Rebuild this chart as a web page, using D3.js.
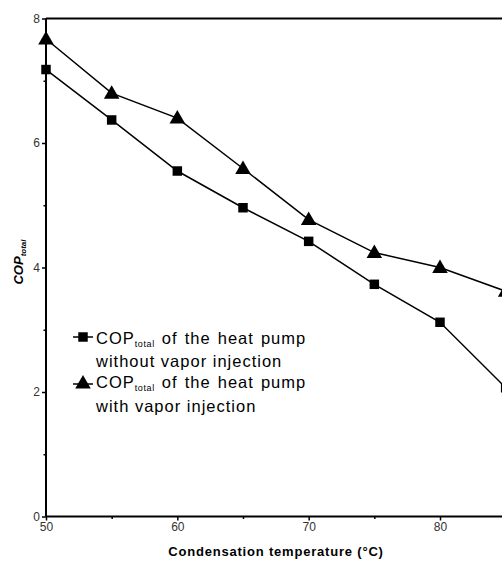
<!DOCTYPE html>
<html><head><meta charset="utf-8">
<script src="https://cdn.jsdelivr.net/npm/d3@7"></script>
<style>body{margin:0;background:#fff}svg{display:block}</style>
</head><body>
<svg id="c" width="502" height="561"></svg>
<script>
const temps = [50, 55, 60, 65, 70, 75, 80, 85];
const copWithout = [7.18, 6.37, 5.55, 4.96, 4.42, 3.73, 3.12, 2.07];
const copWith = [7.67, 6.80, 6.40, 5.59, 4.77, 4.24, 4.00, 3.62];
const xTicks = [50, 60, 70, 80];
const xMinor = [55, 65, 75];
const yTicks = [0, 2, 4, 6, 8];
const yMinor = [1, 3, 5, 7];

const svg = d3.select("#c");
const x = d3.scaleLinear().domain([50, 80]).range([46, 440]);
const y = d3.scaleLinear().domain([0, 8]).range([516.5, 18.5]);
const font = "Arial, 'Liberation Sans', sans-serif";

// frame top
svg.append("line").attr("x1", x(50)).attr("x2", 502).attr("y1", y(8)).attr("y2", y(8))
  .attr("stroke", "#000").attr("stroke-width", 2);

// x axis
const xa = svg.append("g").attr("transform", `translate(0,${y(0)})`)
  .call(d3.axisBottom(x).tickValues(xTicks).tickSize(4).tickSizeOuter(0).tickPadding(2));
xa.select(".domain").remove();
xa.selectAll("text").attr("font-family", font).attr("font-size", 12).attr("fill", "#333");
xa.selectAll("line").attr("stroke-width", 1.5);
svg.append("g").attr("transform", `translate(0,${y(0)})`)
  .call(d3.axisBottom(x).tickValues(xMinor).tickSize(2.5).tickFormat(""))
  .call(g => g.select(".domain").remove()).selectAll("line").attr("stroke-width", 1.5);
svg.append("line").attr("x1", x(50)).attr("x2", 502).attr("y1", y(0)).attr("y2", y(0))
  .attr("stroke", "#000").attr("stroke-width", 2);

// y axis
const ya = svg.append("g").attr("transform", `translate(${x(50)},0)`)
  .call(d3.axisLeft(y).tickValues(yTicks).tickSize(4).tickSizeOuter(0).tickPadding(2));
ya.select(".domain").remove();
ya.selectAll("text").attr("font-family", font).attr("font-size", 12).attr("fill", "#333");
ya.selectAll("line").attr("stroke-width", 1.5);
svg.append("g").attr("transform", `translate(${x(50)},0)`)
  .call(d3.axisLeft(y).tickValues(yMinor).tickSize(2.5).tickFormat(""))
  .call(g => g.select(".domain").remove()).selectAll("line").attr("stroke-width", 1.5);
svg.append("line").attr("x1", x(50)).attr("x2", x(50)).attr("y1", y(8)).attr("y2", y(0))
  .attr("stroke", "#000").attr("stroke-width", 2);

// lines
const line = d3.line().x((d, i) => x(temps[i])).y(d => y(d));
[copWithout, copWith].forEach(s => {
  svg.append("path").attr("d", line(s)).attr("fill", "none").attr("stroke", "#000").attr("stroke-width", 1.5);
});
const sq = d3.symbol().type(d3.symbolSquare).size(90);
const tri = d3.symbol().type(d3.symbolTriangle).size(105);
svg.append("g").selectAll("path").data(copWithout).join("path")
  .attr("d", sq).attr("transform", (d, i) => `translate(${x(temps[i])},${y(d)})`);
svg.append("g").selectAll("path").data(copWith).join("path")
  .attr("d", tri).attr("transform", (d, i) => `translate(${x(temps[i])},${y(d) + 1})`);

// legend
const legend = [
  {sym: sq, y: 337, l1: 344, l2: 367, name: "without vapor injection"},
  {sym: tri, y: 384, l1: 388, l2: 412, name: "with vapor injection"}
];
legend.forEach(e => {
  svg.append("line").attr("x1", 73).attr("x2", 93).attr("y1", e.y).attr("y2", e.y)
    .attr("stroke", "#000").attr("stroke-width", 1.5);
  svg.append("path").attr("d", e.sym).attr("transform", `translate(83,${e.y})`);
  const t = svg.append("text").attr("x", 96).attr("y", e.l1).attr("font-family", font)
    .attr("font-size", 16.5).attr("letter-spacing", 1.0).attr("word-spacing", 1.5);
  t.append("tspan").text("COP");
  t.append("tspan").attr("font-size", 9).attr("letter-spacing", 0.6).attr("dy", 3).text("total");
  t.append("tspan").attr("dy", -3).text(" of the heat pump");
  svg.append("text").attr("x", 96).attr("y", e.l2).attr("font-family", font)
    .attr("font-size", 16.5).attr("letter-spacing", 1.0).text(e.name);
});

// axis titles
svg.append("text").attr("x", 276).attr("y", 556).attr("text-anchor", "middle")
  .attr("font-family", font).attr("font-size", 13).attr("font-weight", "bold").attr("letter-spacing", 0.8)
  .text("Condensation temperature (°C)");
const yt = svg.append("text").attr("transform", "translate(23,262) rotate(-90)").attr("text-anchor", "middle")
  .attr("font-family", font).attr("font-weight", "bold").attr("font-style", "italic").attr("font-size", 13);
yt.append("tspan").text("COP");
yt.append("tspan").attr("font-size", 8).attr("dy", 3).text("total");
</script>
</body></html>
